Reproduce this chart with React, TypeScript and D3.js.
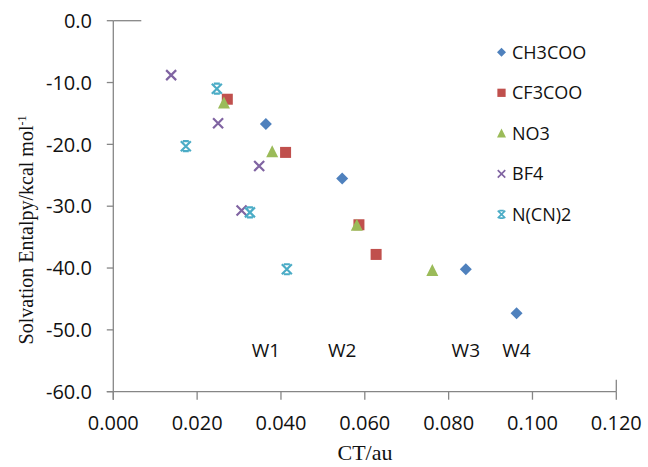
import React from "react";
import * as d3 from "d3";

const W = 648;
const H = 467;

const xTicks = [0, 0.02, 0.04, 0.06, 0.08, 0.1, 0.12];
const yTicks = [0, -10, -20, -30, -40, -50, -60];

const seriesNames = ["CH3COO", "CF3COO", "NO3", "BF4", "N(CN)2"];
const seriesColors = ["#4F81BD", "#C0504D", "#9BBB59", "#8064A2", "#4BACC6"];
const seriesShapes = ["diamond", "square", "triangle", "x", "star"];

const ch3cooX = [0.0364, 0.0546, 0.0841, 0.0962];
const ch3cooY = [-16.7, -25.5, -40.2, -47.3];
const cf3cooX = [0.0272, 0.0411, 0.0586, 0.0627];
const cf3cooY = [-12.7, -21.3, -33.0, -37.8];
const no3X = [0.0264, 0.0379, 0.0581, 0.0761];
const no3Y = [-13.3, -21.2, -33.1, -40.4];
const bf4X = [0.0138, 0.025, 0.0348, 0.0306];
const bf4Y = [-8.8, -16.6, -23.5, -30.7];
const ncn2X = [0.0247, 0.0173, 0.0326, 0.0414];
const ncn2Y = [-11.0, -20.3, -31.0, -40.2];

const seriesX = [ch3cooX, cf3cooX, no3X, bf4X, ncn2X];
const seriesY = [ch3cooY, cf3cooY, no3Y, bf4Y, ncn2Y];

const wLabels = ["W1", "W2", "W3", "W4"];
const wLabelX = [0.0364, 0.0546, 0.0841, 0.0962];
const wLabelY = -54.4;

const sansFont = "'Open Sans', 'Liberation Sans', sans-serif";
const serifFont = "'Liberation Serif', 'DejaVu Serif', serif";

function Marker({ shape, color, cx, cy }: { shape: string; color: string; cx: number; cy: number }) {
  if (shape === "diamond") {
    const r = 6;
    return <path d={`M${cx},${cy - r}L${cx + r},${cy}L${cx},${cy + r}L${cx - r},${cy}Z`} fill={color} />;
  }
  if (shape === "square") {
    const s = 11;
    return <rect x={cx - s / 2} y={cy - s / 2} width={s} height={s} fill={color} />;
  }
  if (shape === "triangle") {
    const w = 12, h = 11;
    return <path d={`M${cx},${cy - h / 2 - 1}L${cx + w / 2},${cy + h / 2}L${cx - w / 2},${cy + h / 2}Z`} fill={color} />;
  }
  if (shape === "x") {
    const r = 5;
    return (
      <path
        d={`M${cx - r},${cy - r}L${cx + r},${cy + r}M${cx - r},${cy + r}L${cx + r},${cy - r}`}
        stroke={color}
        strokeWidth={2.2}
        fill="none"
      />
    );
  }
  const r = 5;
  const c = 3;
  return (
    <path
      d={`M${cx - r},${cy - r}L${cx + r},${cy + r}M${cx - r},${cy + r}L${cx + r},${cy - r}M${cx - c},${cy - r}L${cx + c},${cy - r}M${cx - c},${cy + r}L${cx + c},${cy + r}`}
      stroke={color}
      strokeWidth={2.2}
      fill="none"
    />
  );
}

export default function App() {
  const x = d3.scaleLinear().domain([0, 0.12]).range([113.3, 616.3]);
  const y = d3.scaleLinear().domain([0, -60]).range([20.7, 391.7]);
  const axisColor = "#868686";
  const fmtX = d3.format(".3f");
  const fmtY = (v: number) => d3.format(".1f")(v).replace("\u2212", "-");

  return (
    <svg
      width={W}
      height={H}
      style={{ position: "absolute", left: 0, top: 0, background: "#fff" }}
    >
      <rect x={0} y={0} width={W} height={H} fill="#fff" />
      {/* y axis */}
      <line x1={x(0)} x2={x(0)} y1={y(0)} y2={y(-60) + 8} stroke={axisColor} strokeWidth={1.3} />
      {yTicks.map((t) => (
        <g key={"yt" + t}>
          <line x1={x(0) - 6.5} x2={x(0)} y1={y(t)} y2={y(t)} stroke={axisColor} strokeWidth={1.3} />
          <text
            x={92}
            y={y(t)}
            dy="0.36em"
            textAnchor="end"
            fontFamily={sansFont}
            fontSize={20}
            fill="#111"
          >
            {fmtY(t)}
          </text>
        </g>
      ))}
      <line x1={x(0)} x2={x(0) + 28} y1={y(0)} y2={y(0)} stroke={axisColor} strokeWidth={1.3} />
      {/* x axis */}
      <line x1={x(0) - 6.5} x2={x(0.12)} y1={y(-60)} y2={y(-60)} stroke={axisColor} strokeWidth={1.3} />
      {xTicks.map((t) => (
        <g key={"xt" + t}>
          <line x1={x(t)} x2={x(t)} y1={y(-60)} y2={y(-60) + 8} stroke={axisColor} strokeWidth={1.3} />
          <text
            x={x(t)}
            y={430}
            textAnchor="middle"
            fontFamily={sansFont}
            fontSize={20}
            fill="#111"
          >
            {fmtX(t)}
          </text>
        </g>
      ))}
      <line x1={x(0.12)} x2={x(0.12)} y1={y(-60) - 12} y2={y(-60)} stroke={axisColor} strokeWidth={1.3} />
      {/* axis titles */}
      <text
        x={365}
        y={460}
        textAnchor="middle"
        fontFamily={serifFont}
        fontSize={22}
        fill="#111"
      >
        CT/au
      </text>
      <text
        transform={`translate(33,230) rotate(-90)`}
        textAnchor="middle"
        fontFamily={serifFont}
        fontSize={20}
        fill="#111"
      >
        Solvation Entalpy/kcal mol
        <tspan dy={-7} fontSize={12}>-1</tspan>
      </text>
      {/* W labels */}
      {wLabels.map((l, i) => (
        <text
          key={l}
          x={x(wLabelX[i])}
          y={y(wLabelY)}
          textAnchor="middle"
          fontFamily={sansFont}
          fontSize={19}
          fill="#111"
        >
          {l}
        </text>
      ))}
      {/* points */}
      {seriesNames.map((name, si) => (
        <g key={name}>
          {seriesX[si].map((vx, i) => (
            <Marker
              key={i}
              shape={seriesShapes[si]}
              color={seriesColors[si]}
              cx={x(vx)}
              cy={y(seriesY[si][i])}
            />
          ))}
        </g>
      ))}
      {/* legend */}
      {seriesNames.map((name, si) => {
        const ly = 52.3 + si * 40.5;
        return (
          <g key={"lg" + name}>
            <g transform={`translate(501.5,${ly}) scale(0.75) translate(-501.5,${-ly})`}>
              <Marker shape={seriesShapes[si]} color={seriesColors[si]} cx={501.5} cy={ly} />
            </g>
            <text
              x={512}
              y={ly}
              dy="0.36em"
              fontFamily={sansFont}
              fontSize={18}
              fill="#111"
            >
              {name}
            </text>
          </g>
        );
      })}
    </svg>
  );
}
